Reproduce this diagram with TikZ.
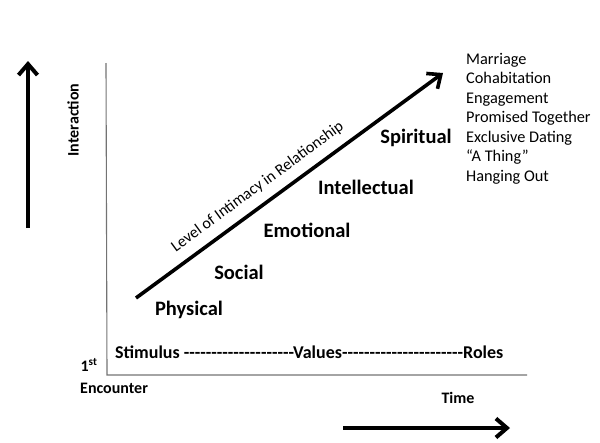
\documentclass[tikz,border=0pt]{standalone}
\usepackage{fontspec}
\newfontfamily\calfont{Carlito}
\usetikzlibrary{arrows.meta,positioning}
\tikzset{
  >={Straight Barb[length=11pt,width=19pt]},
  bigarrow/.style={->,line width=4pt,line cap=butt},
  axis/.style={draw=black!55,line width=1.1pt},
  stage/.style={font=\calfont\bfseries\fontsize{20.5}{24}\selectfont},
  lbl/.style={font=\calfont\bfseries\fontsize{16}{19}\selectfont},
  status/.style={font=\calfont\fontsize{16.3}{19}\selectfont,anchor=base west,inner sep=0pt},
}

\begin{document}
\begin{tikzpicture}[x=1pt,y=-1pt]
  \useasboundingbox (0,0) rectangle (600,442);
  % axes
  \coordinate (O) at (107,375);
  \coordinate (ytop) at (106,63);
  \coordinate (xend) at (527,375);
  \draw[axis] (ytop) -- (O) -- (xend);
  % direction arrows
  \coordinate (ylo) at (28,228);
  \coordinate (yhi) at (28,61);
  \draw[bigarrow] (ylo) -- (yhi);
  \node[lbl,rotate=90] (interaction) at (73,120) {Interaction};
  \coordinate (xlo) at (343,428);
  \coordinate (xhi) at (510,428);
  \draw[bigarrow] (xlo) -- (xhi);
  \node[lbl] (time) at (458,398) {Time};
  \node[lbl] (first) at (89,365) {1\textsuperscript{st}};
  \node[lbl,anchor=west,inner sep=0pt] (encounter) at (80,388) {Encounter};
  \node[lbl,font=\calfont\bfseries\fontsize{18}{21}\selectfont,anchor=west,inner sep=0pt] (scale) at (115,352)
    {Stimulus --------------------Values----------------------Roles};
  % intimacy arrow
  \coordinate (lo) at (136,298);
  \coordinate (hi) at (443,73);
  \draw[bigarrow,line width=3.6pt] (lo) -- (hi)
    node[pos=0.43,sloped,above=8pt,inner sep=1pt,font=\calfont\fontsize{16}{19}\selectfont] (level) {Level of Intimacy in Relationship};
  % stages
  \node[stage] (physical) at (189,310) {Physical};
  \node[stage] (social) at (239,272) {Social};
  \node[stage] (emotional) at (307,230) {Emotional};
  \node[stage] (intellectual) at (366,187) {Intellectual};
  \node[stage] (spiritual) at (416,138) {Spiritual};
  % relationship status
  \foreach \t [count=\i from 0] in {Marriage,Cohabitation,Engagement,Promised Together,Exclusive Dating,“A Thing”,Hanging Out}
    \node[status] (st\i) at (466,64+19.5*\i) {\t};
\end{tikzpicture}
\end{document}
